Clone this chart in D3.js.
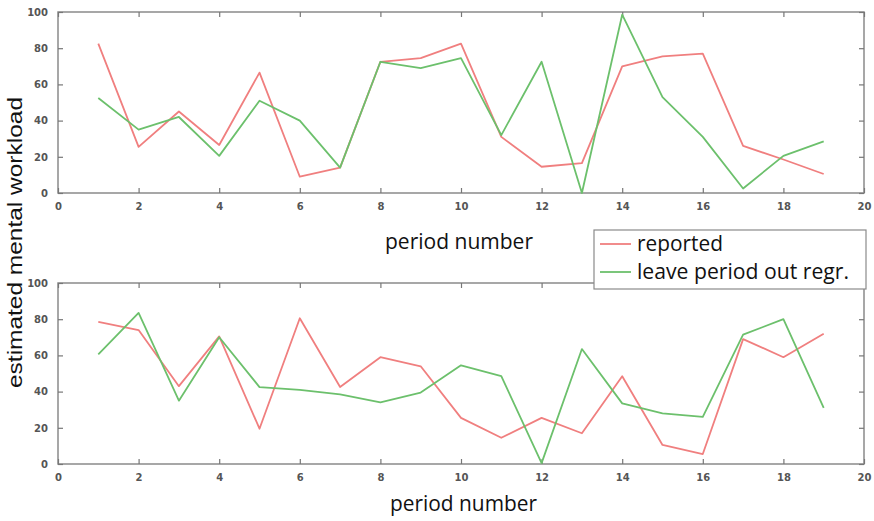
<!DOCTYPE html>
<html>
<head>
<meta charset="utf-8">
<script src="https://cdn.jsdelivr.net/npm/d3@7"></script>
<style>
  body { margin: 0; background: #fff; }
  svg { display: block; }
  .tick text { font-family: "DejaVu Sans", sans-serif; font-size: 10px; font-weight: bold; fill: #555; }
  .lbl { font-family: "Open Sans", sans-serif; fill: #111; }
</style>
</head>
<body>
<div id="chart"></div>
<script>
// period numbers 1..19
const periods = [1, 2, 3, 4, 5, 6, 7, 8, 9, 10, 11, 12, 13, 14, 15, 16, 17, 18, 19];

// top panel
const topReported = [82.5, 25.5, 45, 26.5, 66.5, 9, 14, 72.5, 74.5, 82.5, 31, 14.5, 16.5, 70, 75.5, 77, 26, 18.5, 10.5];
const topRegr = [52.5, 35, 42, 20.5, 51, 40, 14, 72.5, 69, 74.5, 32, 72.5, 0, 98.5, 53, 31, 2.5, 20.5, 28.5];

// bottom panel
const botReported = [78.5, 74, 43, 70.5, 19.5, 80.5, 42.5, 59, 54, 25.5, 14.5, 25.5, 17, 48.5, 10.5, 5.5, 69, 59, 72];
const botRegr = [60.5, 83.5, 35, 70, 42.5, 41, 38.5, 34, 39.5, 54.5, 48.5, 0.5, 63.5, 33.5, 28, 26, 71.5, 80, 31];

const xTicks = [0, 2, 4, 6, 8, 10, 12, 14, 16, 18, 20];
const yTicks = [0, 20, 40, 60, 80, 100];
const seriesNames = ["reported", "leave period out regr."];
const colors = ["#f07f7f", "#6cc06c"];

const W = 874, H = 521;
const svg = d3.select("#chart").append("svg").attr("width", W).attr("height", H);

const x = d3.scaleLinear().domain([0, 20]).range([58, 864]);

function panel(top, bottom, reported, regr) {
    const y = d3.scaleLinear().domain([0, 100]).range([bottom, top]);
    const g = svg.append("g");

    // frame
    g.append("rect")
        .attr("x", x(0)).attr("y", y(100))
        .attr("width", x(20) - x(0)).attr("height", y(0) - y(100))
        .attr("fill", "#fff").attr("stroke", "#8a8a8a").attr("stroke-width", 1.5);

    const tickStyle = sel => {
        sel.select(".domain").remove();
        sel.selectAll(".tick line").attr("stroke", "#777").attr("stroke-width", 1.2);
    };

    // bottom / left axes with labels, inward ticks
    g.append("g").attr("transform", `translate(0,${y(0)})`)
        .call(d3.axisBottom(x).tickValues(xTicks).tickSize(-5).tickPadding(10).tickFormat(d3.format("d")))
        .call(tickStyle);
    g.append("g").attr("transform", `translate(${x(0)},0)`)
        .call(d3.axisLeft(y).tickValues(yTicks).tickSize(-5).tickPadding(10))
        .call(tickStyle);
    // top / right mirrored ticks
    g.append("g").attr("transform", `translate(0,${y(100)})`)
        .call(d3.axisTop(x).tickValues(xTicks).tickSize(-5).tickFormat(""))
        .call(tickStyle);
    g.append("g").attr("transform", `translate(${x(20)},0)`)
        .call(d3.axisRight(y).tickValues(yTicks).tickSize(-5).tickFormat(""))
        .call(tickStyle);

    const line = d3.line().x((d, i) => x(periods[i])).y(d => y(d));
    [reported, regr].forEach((s, i) => {
        g.append("path").datum(s)
            .attr("d", line)
            .attr("fill", "none")
            .attr("stroke", colors[i])
            .attr("stroke-width", 1.8)
            .attr("stroke-linejoin", "round");
    });

    return y;
}

panel(12, 193, topReported, topRegr);
panel(283, 464, botReported, botRegr);

// x-axis titles
svg.append("text").attr("class", "lbl")
    .attr("x", 385).attr("y", 249)
    .attr("font-size", 21).attr("textLength", 148).attr("lengthAdjust", "spacingAndGlyphs")
    .text("period number");
svg.append("text").attr("class", "lbl")
    .attr("x", 390).attr("y", 511)
    .attr("font-size", 21).attr("textLength", 147).attr("lengthAdjust", "spacingAndGlyphs")
    .text("period number");

// y-axis title
svg.append("text")
    .attr("transform", "translate(22,388) rotate(-90)")
    .attr("font-family", "'Liberation Sans', Arial, sans-serif")
    .attr("fill", "#111")
    .attr("font-size", 21).attr("textLength", 291).attr("lengthAdjust", "spacingAndGlyphs")
    .text("estimated mental workload");

// legend
const lg = svg.append("g");
lg.append("rect")
    .attr("x", 594).attr("y", 230).attr("width", 272).attr("height", 59)
    .attr("fill", "#fff").attr("stroke", "#8a8a8a").attr("stroke-width", 1.2);
const legendLen = [86, 212];
seriesNames.forEach((name, i) => {
    const cy = 244 + i * 28;
    lg.append("line")
        .attr("x1", 600).attr("x2", 631).attr("y1", cy).attr("y2", cy)
        .attr("stroke", colors[i]).attr("stroke-width", 1.8);
    lg.append("text").attr("class", "lbl")
        .attr("x", 637).attr("y", cy + 7)
        .attr("font-size", 21).attr("textLength", legendLen[i]).attr("lengthAdjust", "spacingAndGlyphs")
        .text(name);
});
</script>
</body>
</html>
